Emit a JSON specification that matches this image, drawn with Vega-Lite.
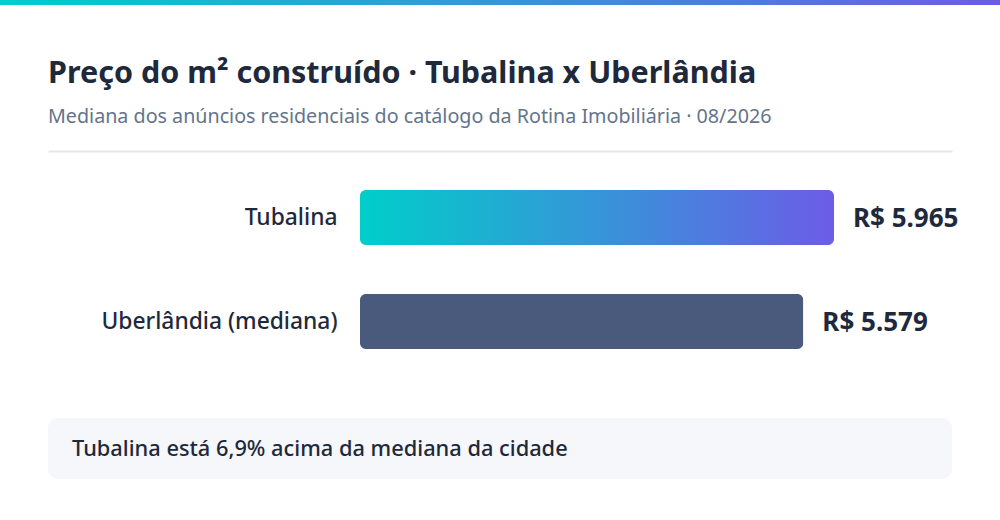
{
  "$schema": "https://vega.github.io/schema/vega-lite/v6.json",
  "padding": 0,
  "background": "#ffffff",
  "config": {
    "font": "Noto Sans",
    "view": {"stroke": null},
    "locale": {
      "number": {"decimal": ",", "thousands": ".", "grouping": [3], "currency": ["R$ ", ""]}
    }
  },
  "datasets": {
    "faixa": [{"parte": "topo"}],
    "precos": [
      {"local": "Tubalina", "preco_m2": 5965},
      {"local": "Uberlândia (mediana)", "preco_m2": 5579}
    ],
    "nota": [{"texto": "Tubalina está 6,9% acima da mediana da cidade"}]
  },
  "vconcat": [
    {
      "width": 1000,
      "height": 5,
      "data": {"name": "faixa"},
      "mark": {
        "type": "rect",
        "color": {
          "gradient": "linear",
          "x1": 0, "y1": 0, "x2": 1, "y2": 0,
          "stops": [
            {"offset": 0, "color": "#00cec9"},
            {"offset": 1, "color": "#6c5ce7"}
          ]
        }
      },
      "encoding": {}
    },
    {
      "width": 904,
      "height": 413,
      "data": {"name": "precos"},
      "title": {
        "text": "Preço do m² construído · Tubalina x Uberlândia",
        "subtitle": "Mediana dos anúncios residenciais do catálogo da Rotina Imobiliária · 08/2026",
        "orient": "top",
        "anchor": "start",
        "frame": "group",
        "offset": -122,
        "fontSize": 30.5,
        "fontWeight": "bold",
        "color": "#1e293b",
        "subtitleFontSize": 19.7,
        "subtitleColor": "#64748b",
        "subtitlePadding": 18
      },
      "encoding": {
        "y": {
          "field": "local",
          "type": "nominal",
          "sort": ["Tubalina", "Uberlândia (mediana)"],
          "scale": {"paddingInner": 0, "paddingOuter": 0.9856, "align": 0.783},
          "axis": {
            "offset": -312,
            "domain": false,
            "ticks": false,
            "grid": false,
            "title": null,
            "labelPadding": 23,
            "labelFontSize": 22.8,
            "labelFontWeight": 500,
            "labelColor": "#1e293b",
            "labelLimit": 400
          }
        },
        "x": {
          "field": "preco_m2",
          "type": "quantitative",
          "scale": {"domain": [-3926, 7450], "nice": false},
          "axis": {
            "orient": "top",
            "offset": -146,
            "labels": false,
            "ticks": false,
            "grid": false,
            "title": null,
            "domainColor": "#e5e7eb",
            "domainWidth": 2
          }
        }
      },
      "layer": [
        {
          "transform": [{"filter": "datum.local === 'Tubalina'"}],
          "mark": {
            "type": "bar",
            "height": 55,
            "cornerRadius": 6,
            "color": {
              "gradient": "linear",
              "x1": 0, "y1": 0, "x2": 1, "y2": 0,
              "stops": [
                {"offset": 0, "color": "#00cec9"},
                {"offset": 1, "color": "#6c5ce7"}
              ]
            }
          }
        },
        {
          "transform": [{"filter": "datum.local !== 'Tubalina'"}],
          "mark": {"type": "bar", "height": 55, "cornerRadius": 6, "color": "#4a5a7c"}
        },
        {
          "mark": {
            "type": "text",
            "align": "left",
            "baseline": "middle",
            "dx": 19,
            "dy": 1,
            "fontSize": 26,
            "fontWeight": "bold",
            "color": "#1e293b"
          },
          "encoding": {
            "text": {"field": "preco_m2", "type": "quantitative", "format": "$,.0f"}
          }
        }
      ]
    },
    {
      "width": 904,
      "height": 61,
      "data": {"name": "nota"},
      "view": {"fill": "#f5f7fa", "cornerRadius": 10, "stroke": null},
      "mark": {
        "type": "text",
        "align": "left",
        "baseline": "middle",
        "fontSize": 21.8,
        "fontWeight": 500,
        "color": "#1e293b"
      },
      "encoding": {
        "x": {"value": 24},
        "text": {"field": "texto", "type": "nominal"}
      }
    }
  ],
  "spacing": 0,
  "bounds": "flush",
  "center": true
}
